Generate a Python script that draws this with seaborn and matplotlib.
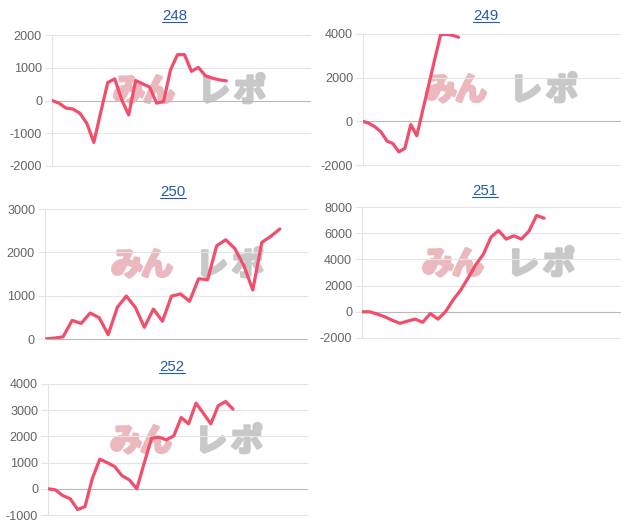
import numpy as np
import pandas as pd
import matplotlib
matplotlib.use("Agg")
import matplotlib.pyplot as plt
import matplotlib.patheffects as pe
import seaborn as sns
from matplotlib.lines import Line2D

# ---------------- data ----------------
titles = ["248", "249", "250", "251", "252"]

v248 = [0, -80, -230, -260, -390, -700, -1280, -350, 550, 660, 20, -440, 610, 510,
        410, -80, -30, 940, 1400, 1400, 890, 1010, 755, 680, 630, 600]
v249 = [0, -90, -250, -480, -900, -1020, -1400, -1240, -150, -660, 510, 1670, 2840,
        3980, 3980, 3940, 3850]
v250 = [0, 20, 50, 430, 360, 600, 490, 100, 730, 990, 730, 270, 690, 410, 990, 1040,
        870, 1390, 1370, 2150, 2290, 2090, 1700, 1130, 2230, 2370, 2540]
v251 = [0, 0, -170, -380, -650, -880, -710, -560, -800, -130, -560, 0, 900, 1650,
        2600, 3600, 4400, 5700, 6200, 5550, 5800, 5550, 6150, 7350, 7150]
v252 = [0, -40, -260, -380, -790, -680, 400, 1130, 1000, 850, 500, 340, 0, 980, 1930,
        1970, 1870, 2020, 2720, 2480, 3270, 2880, 2480, 3170, 3330, 3040]

ticks248 = [-2000, -1000, 0, 1000, 2000]
ticks249 = [-2000, 0, 2000, 4000]
ticks250 = [0, 1000, 2000, 3000]
ticks251 = [-2000, 0, 2000, 4000, 6000, 8000]
ticks252 = [-1000, 0, 1000, 2000, 3000, 4000]

series = [v248, v249, v250, v251, v252]
ticks = [ticks248, ticks249, ticks250, ticks251, ticks252]

wm_left = ["み", "ん"]
wm_right = ["レ", "ポ"]

# ---------------- style ----------------
sns.set_theme(style="white")
plt.rcParams['font.family'] = ['Liberation Sans', 'DejaVu Sans']

LINE = '#f24d6b'
GRID = '#e4e4e4'
ZERO = '#b8b8b8'
TXT = '#666666'
BLUE = '#2459b8'
PINK = '#ebb9bd'
GRAY = '#c8c8c8'

W, H = 624, 525
fig = plt.figure(figsize=(W / 100, H / 100), dpi=100)
fig.patch.set_facecolor('white')

# left, top, right, bottom, xmax, title_x, title_baseline, watermark center
layout = [
    (52, 35, 310, 166, 37, 174.5, 20, (191, 92)),
    (363, 34, 620, 165, 43, 486, 20, (503, 91)),
    (45, 209, 307, 339, 29, 173, 196, (189, 266)),
    (362, 207, 620, 338, 34, 485, 195, (500, 265)),
    (48, 384, 307, 515, 35, 172, 371, (188, 442)),
]

title_texts = []
for vals, tk, ttl, (l, t, r, b, xmax, tx, tyb, (wx, wy)) in zip(series, ticks, titles, layout):
    ax = fig.add_axes([l / W, 1 - b / H, (r - l) / W, (b - t) / H])
    ax.set_facecolor('none')
    df = pd.DataFrame({'x': np.arange(len(vals)), 'y': vals})
    sns.lineplot(data=df, x='x', y='y', ax=ax, color=LINE, linewidth=2.3, zorder=3)
    ax.set_xlim(0, xmax)
    ax.set_ylim(tk[0], tk[-1])
    ax.set_yticks(tk)
    ax.set_yticklabels([str(v) for v in tk])
    ax.set_xticks([])
    ax.set_xlabel('')
    ax.set_ylabel('')
    for v in tk:
        ax.axhline(v, color=ZERO if v == 0 else GRID, lw=0.8, zorder=1, clip_on=False)
    for s in ['top', 'right', 'bottom']:
        ax.spines[s].set_visible(False)
    ax.spines['left'].set_color(GRID)
    ax.spines['left'].set_linewidth(0.8)
    ax.tick_params(axis='y', length=4.8, width=0.8, color=GRID, pad=2.4,
                   labelsize=9.1, labelcolor=TXT, left=True)
    for tick, v in zip(ax.yaxis.get_major_ticks(), tk):
        if v == 0:
            tick.tick1line.set_color(ZERO)

    # title
    tt = fig.text(tx / W, 1 - tyb / H, ttl, ha='center', va='baseline',
                  fontsize=10.8, color=BLUE)
    title_texts.append((tt, tyb))

    # watermark
    for chars, offs, col in [(wm_left, [-62, -32], PINK), (wm_right, [23, 59], GRAY)]:
        for ch, dx in zip(chars, offs):
            fig.text((wx + dx) / W, 1 - wy / H, ch, ha='center', va='center',
                     fontsize=23, fontweight='bold', color=col,
                     family=['Noto Sans CJK JP', 'DejaVu Sans'], zorder=-1,
                     path_effects=[pe.withStroke(linewidth=2.2, foreground=col)])

# underline titles
fig.canvas.draw()
renderer = fig.canvas.get_renderer()
for tt, tyb in title_texts:
    bb = tt.get_window_extent(renderer)
    yy = 1 - (tyb + 2) / H
    fig.add_artist(Line2D([bb.x0 / W, bb.x1 / W], [yy, yy], transform=fig.transFigure,
                          color=BLUE, lw=0.8))

fig.savefig('out.png', dpi=100, facecolor='white')
